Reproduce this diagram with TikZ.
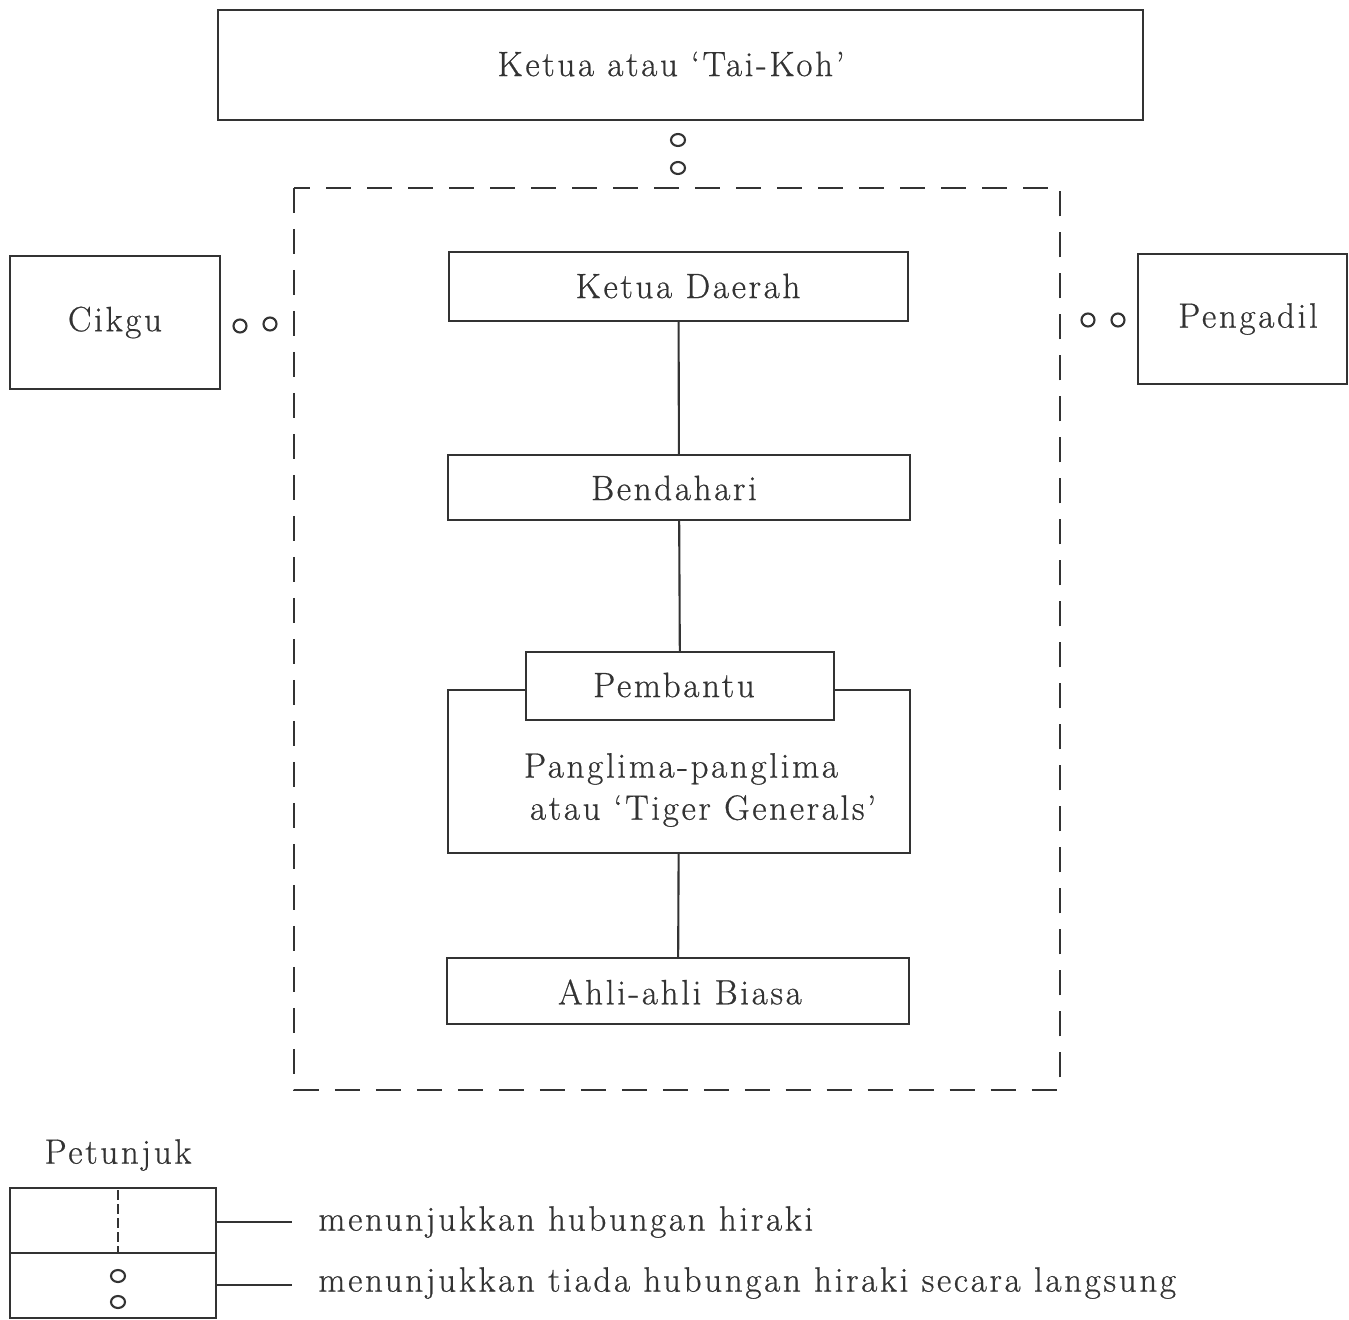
\documentclass[tikz,border=0pt]{standalone}
\usepackage{fontspec}
\setmainfont{Latin Modern Roman}[LetterSpace=7.5, FakeBold=0.6]
\usepackage{tikz}
\definecolor{ink}{gray}{0.2}
\tikzset{
	box/.style={draw=ink, line width=1.2pt, inner sep=0pt, fill=white},
	txt/.style={text=ink, inner sep=0pt, font=\fontsize{20}{24}\selectfont},
	ring/.style={draw=ink, line width=1.2pt},
	link/.style={draw=ink, line width=1.2pt},
}

\begin{document}
\begin{tikzpicture}[x=0.02cm, y=-0.02cm]
		\useasboundingbox (0,0) rectangle (1349,1319);
		\def \r {0.13cm}

		\node[box, minimum width=18.5cm, minimum height=2.2cm] (taikoh) at (680.5,65) {};
		\node[txt] at (671,64) {Ketua atau `Tai-Koh'};

		\draw[ring] (678,140) ellipse (0.14cm and 0.12cm);
		\draw[ring] (678,168) ellipse (0.14cm and 0.12cm);

		% kotak putus-putus
		\draw[link, dash pattern=on 0.5cm off 0.32cm] (294,188) rectangle (1060,1090);

		\node[box, minimum width=4.2cm, minimum height=2.66cm] (cikgu) at (115,322.5) {};
		\node[txt] at (cikgu) {Cikgu};
		\draw[ring] (240,326) circle (\r);
		\draw[ring] (270,324) circle (\r);

		\node[box, minimum width=4.18cm, minimum height=2.6cm] (pengadil) at (1242.5,319) {};
		\node[txt] at (1248,319) {Pengadil};
		\draw[ring] (1088,320) circle (\r);
		\draw[ring] (1118,320) circle (\r);

		\node[box, minimum width=9.18cm, minimum height=1.38cm] (daerah) at (678.5,286.5) {};
		\node[txt] at (688,286) {Ketua Daerah};
		\node[box, minimum width=9.24cm, minimum height=1.3cm] (bendahari) at (679,487.5) {};
		\node[txt] at (674,488) {Bendahari};
		\node[box, minimum width=9.24cm, minimum height=3.26cm] (panglima) at (679,771.5) {};
		\node[txt, align=left] at (700,790) {Panglima-panglima\\ \hspace*{0.12cm}atau `Tiger Generals'};
		\node[box, minimum width=6.16cm, minimum height=1.36cm] (pembantu) at (680,686) {};
		\node[txt] at (674,685) {Pembantu};
		\node[box, minimum width=9.24cm, minimum height=1.32cm] (ahli) at (678,991) {};
		\node[txt] at (680,992) {Ahli-ahli Biasa};

		\draw[link] (daerah) -- (bendahari);
		\draw[link] (bendahari) -- (pembantu);
		\draw[link] (panglima) -- (ahli);

		% petunjuk
		\node[txt] at (118,1155) {Petunjuk};
		\node[box, minimum width=4.12cm, minimum height=1.3cm] (garis) at (113,1220.5) {};
		\node[box, minimum width=4.12cm, minimum height=1.3cm] (bulat) at (113,1285.5) {};
		\draw[ink, line width=1pt, dash pattern=on 0.2cm off 0.08cm] (118,1190) -- (118,1253);
		\draw[ring] (118,1276) ellipse (0.14cm and 0.12cm);
		\draw[ring] (118,1302) ellipse (0.14cm and 0.12cm);
		\coordinate (g1) at (292,1222);
		\coordinate (g2) at (292,1285);
		\draw[link] (garis.east |- g1) -- (g1);
		\draw[link] (bulat.east |- g2) -- (g2);
		\node[txt, anchor=west] at (318,1222) {menunjukkan hubungan hiraki};
		\node[txt, anchor=west] at (318,1283) {menunjukkan tiada hubungan hiraki secara langsung};
	\end{tikzpicture}
\end{document}
